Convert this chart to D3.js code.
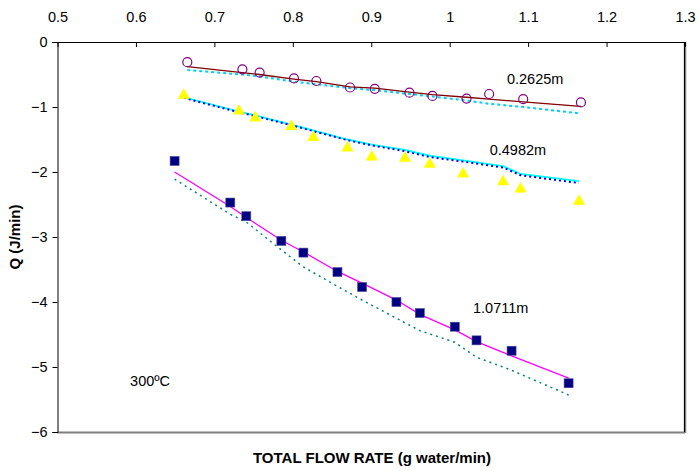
<!DOCTYPE html>
<html>
<head>
<meta charset="utf-8">
<script src="https://cdn.jsdelivr.net/npm/d3@7"></script>
<style>
  body { margin: 0; background: #fff; }
  svg text { font-family: "Liberation Sans", Arial, sans-serif; }
</style>
</head>
<body>
<div id="chart"></div>
<script>
// measured points, 0.2625m (open circles)
const circleX = [0.6655, 0.7357, 0.7577, 0.8015, 0.830, 0.873, 0.9045, 0.9487, 0.978, 1.0215, 1.0503, 1.0937, 1.1673];
const circleQ = [-0.31, -0.42, -0.47, -0.56, -0.60, -0.70, -0.72, -0.78, -0.83, -0.87, -0.80, -0.88, -0.93];
const circleFitA = [-0.38, -0.47, -0.50, -0.57, -0.61, -0.69, -0.71, -0.77, -0.81, -0.85, -0.88, -0.92, -0.99];
const circleFitB = [-0.43, -0.50, -0.53, -0.61, -0.65, -0.71, -0.74, -0.80, -0.84, -0.90, -0.95, -1.00, -1.10];

// 0.4982m (triangles)
const triX = [0.661, 0.7313, 0.7522, 0.798, 0.826, 0.8696, 0.9006, 0.943, 0.9746, 1.017, 1.068, 1.0904, 1.1648];
const triQ = [-0.82, -1.06, -1.17, -1.30, -1.47, -1.63, -1.77, -1.79, -1.88, -2.03, -2.15, -2.26, -2.45];
const triFitA = [-0.85, -1.07, -1.13, -1.27, -1.36, -1.50, -1.58, -1.66, -1.75, -1.82, -1.91, -2.03, -2.14];
const triFitB = [-0.86, -1.08, -1.14, -1.28, -1.37, -1.51, -1.59, -1.68, -1.77, -1.84, -1.93, -2.05, -2.17];

// 1.0711m (squares)
const sqX = [0.6493, 0.7203, 0.7407, 0.7854, 0.8135, 0.8569, 0.8883, 0.9321, 0.9619, 1.0065, 1.0342, 1.0789, 1.1516];
const sqQ = [-1.83, -2.47, -2.68, -3.06, -3.24, -3.54, -3.77, -4.00, -4.17, -4.38, -4.59, -4.75, -5.25];
const sqFitA = [-2.00, -2.53, -2.70, -3.05, -3.23, -3.53, -3.71, -3.97, -4.19, -4.43, -4.61, -4.83, -5.17];
const sqFitB = [-2.11, -2.65, -2.77, -3.20, -3.46, -3.76, -3.97, -4.25, -4.44, -4.62, -4.85, -5.05, -5.43];

const xTicks = [0.5, 0.6, 0.7, 0.8, 0.9, 1, 1.1, 1.2, 1.3];
const yTicks = [0, -1, -2, -3, -4, -5, -6];

const seriesLabels = [
  { text: "0.2625m", x: 1.109, y: -0.65 },
  { text: "0.4982m", x: 1.087, y: -1.74 },
  { text: "1.0711m", x: 1.065, y: -4.17 },
  { text: "300ºC", x: 0.618, y: -5.29 }
];

const W = 700, H = 471;
const mLeft = 57.5, mRight = 685, mTop = 42, mBottom = 432;

const x = d3.scaleLinear().domain([0.5, 1.3]).range([mLeft, mRight]);
const y = d3.scaleLinear().domain([0, -6]).range([mTop, mBottom]);

const svg = d3.select("#chart").append("svg")
  .attr("width", W).attr("height", H);

// plot frame: shadowed right and bottom edges
svg.append("line").attr("x1", mLeft).attr("x2", mRight).attr("y1", mBottom + 0.5).attr("y2", mBottom + 0.5)
  .attr("stroke", "#808080").attr("stroke-width", 2);
svg.append("line").attr("x1", mRight).attr("x2", mRight).attr("y1", mTop).attr("y2", mBottom + 1)
  .attr("stroke", "#808080").attr("stroke-width", 2.5);
svg.append("line").attr("x1", mRight - 0.5).attr("x2", mRight - 0.5).attr("y1", mTop).attr("y2", mBottom)
  .attr("stroke", "#000").attr("stroke-width", 1);

// top axis, ticks pointing inward
const xAxis = d3.axisTop(x).tickValues(xTicks).tickFormat(d3.format("")).tickSizeInner(-5).tickSizeOuter(0).tickPadding(20);
const gx = svg.append("g").attr("transform", "translate(0," + mTop + ")").call(xAxis);
gx.select(".domain").attr("stroke", "#000");
gx.selectAll("text").attr("font-size", 14.5).attr("fill", "#000");

// left axis
const yAxis = d3.axisLeft(y).tickValues(yTicks).tickFormat(d3.format("")).tickSize(5).tickPadding(5);
const gy = svg.append("g").attr("transform", "translate(" + mLeft + ",0)").call(yAxis);
gy.select(".domain").attr("stroke", "#000");
gy.selectAll("text").attr("font-size", 14.5).attr("fill", "#000");

svg.append("text")
  .attr("transform", "translate(20," + (mTop + mBottom) / 2 + ") rotate(-90)")
  .attr("text-anchor", "middle")
  .attr("font-size", 15).attr("font-weight", "bold")
  .text("Q (J/min)");

svg.append("text")
  .attr("x", 372).attr("y", 463)
  .attr("text-anchor", "middle")
  .attr("font-size", 15).attr("font-weight", "bold")
  .text("TOTAL FLOW RATE (g water/min)");

const line = d3.line().x(d => x(d[0])).y(d => y(d[1]));
function drawLine(xs, ys, color, width, dash) {
  svg.append("path")
    .datum(d3.zip(xs, ys))
    .attr("d", line)
    .attr("fill", "none")
    .attr("stroke", color)
    .attr("stroke-width", width)
    .attr("stroke-dasharray", dash);
}

drawLine(circleX, circleFitB, "#00CCFF", 2, "3,3");
drawLine(circleX, circleFitA, "#800000", 1.3, null);
drawLine(triX, triFitA, "#00FFFF", 1.8, null);
drawLine(triX, triFitB, "#0000FF", 2, "2,3");
drawLine(sqX, sqFitB, "#008080", 1.5, "2,4");
drawLine(sqX, sqFitA, "#FF00FF", 1.3, null);

// markers
svg.append("g").selectAll("circle")
  .data(d3.zip(circleX, circleQ))
  .join("circle")
  .attr("cx", d => x(d[0])).attr("cy", d => y(d[1]))
  .attr("r", 4.5)
  .attr("fill", "none").attr("stroke", "#800080").attr("stroke-width", 1.2);

const tri = d3.symbol().type(d3.symbolTriangle).size(64);
svg.append("g").selectAll("path")
  .data(d3.zip(triX, triQ))
  .join("path")
  .attr("d", tri)
  .attr("transform", d => "translate(" + x(d[0]) + "," + y(d[1]) + ")")
  .attr("fill", "#FFFF00");

svg.append("g").selectAll("rect")
  .data(d3.zip(sqX, sqQ))
  .join("rect")
  .attr("x", d => x(d[0]) - 4.5).attr("y", d => y(d[1]) - 4.5)
  .attr("width", 9).attr("height", 9)
  .attr("fill", "#000080").attr("stroke", "#4a4aa0").attr("stroke-width", 0.6);

svg.append("g").selectAll("text")
  .data(seriesLabels)
  .join("text")
  .attr("x", d => x(d.x)).attr("y", d => y(d.y))
  .attr("text-anchor", "middle")
  .attr("font-size", 14.5)
  .text(d => d.text);
</script>
</body>
</html>
